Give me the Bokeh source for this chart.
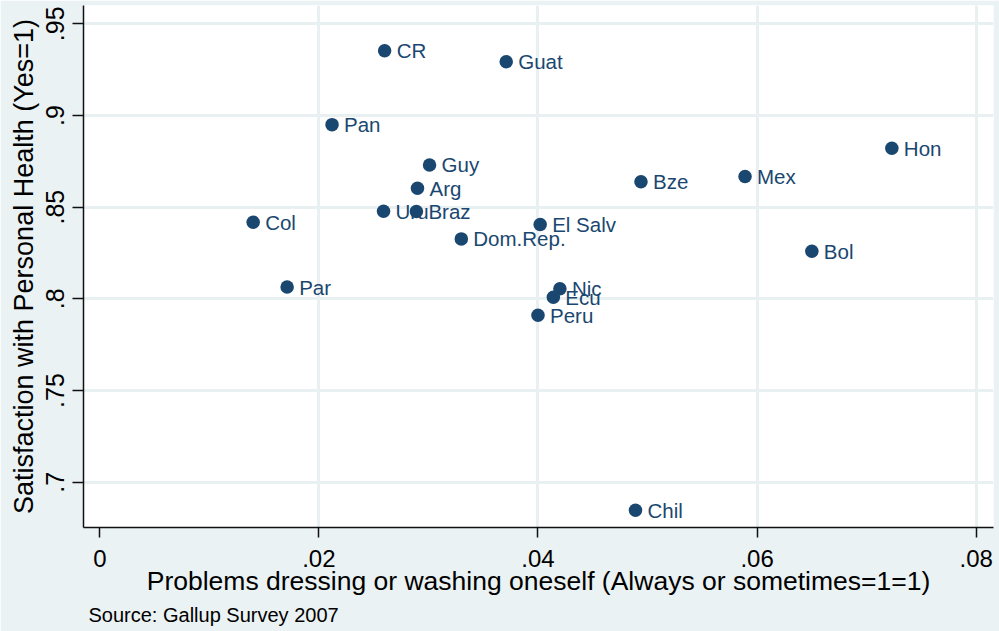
from bokeh.plotting import figure
from bokeh.models import Range1d, FixedTicker, ColumnDataSource, Title
from bokeh.core.properties import value
from bokeh.embed import file_html
from bokeh.resources import INLINE

countries = ["CR", "Guat", "Pan", "Guy", "Arg", "Uru", "Braz", "Col", "El Salv",
             "Dom.Rep.", "Bze", "Mex", "Hon", "Bol", "Par", "Nic", "Ecu", "Peru", "Chil"]
problems_dressing = [0.0260, 0.0371, 0.0212, 0.0301, 0.0290, 0.0259, 0.0289, 0.0140, 0.0402,
                     0.0330, 0.0494, 0.0589, 0.0723, 0.0650, 0.0171, 0.0420, 0.0414, 0.0400, 0.0489]
satisfaction = [0.9353, 0.9293, 0.8950, 0.8730, 0.8603, 0.8478, 0.8476, 0.8418, 0.8405,
                0.8327, 0.8639, 0.8667, 0.8821, 0.8260, 0.8064, 0.8055, 0.8009, 0.7910, 0.6847]

x_ticks = [0.0, 0.02, 0.04, 0.06, 0.08]
x_tick_labels = ["0", ".02", ".04", ".06", ".08"]
y_ticks = [0.7, 0.75, 0.8, 0.85, 0.9, 0.95]
y_tick_labels = [".7", ".75", ".8", ".85", ".9", ".95"]

x_title = "Problems dressing or washing oneself (Always or sometimes=1=1)"
y_title = "Satisfaction with Personal Health (Yes=1)"
source_note = "Source: Gallup Survey 2007"

BG = "#EAF2F3"
GRID = "#E8F0F2"
NAVY = "#1A476F"
FONT = "Liberation Sans"

src = ColumnDataSource(dict(x=problems_dressing, y=satisfaction, name=countries))

p = figure(width=999, height=631, output_backend="svg", toolbar_location=None,
           x_range=Range1d(-0.001488, 0.08158), y_range=Range1d(0.67529, 0.95998),
           min_border=0, min_border_left=83, min_border_right=6, min_border_top=5,
           min_border_bottom=104)

p.background_fill_color = "white"
p.border_fill_color = BG
p.outline_line_color = None

for ax in (p.xaxis, p.yaxis):
    ax.axis_line_color = "#111111"
    ax.axis_line_width = 1.5
    ax.major_tick_line_color = "#111111"
    ax.major_tick_line_width = 1.5
    ax.major_tick_in = 0
    ax.minor_tick_line_color = None
    ax.major_label_text_font = FONT
    ax.major_label_text_color = "#000000"
    ax.axis_label_text_font = FONT
    ax.axis_label_text_font_style = "normal"
    ax.axis_label_text_color = "#000000"

p.xaxis.ticker = FixedTicker(ticks=x_ticks)
p.xaxis.major_label_overrides = {t: l for t, l in zip(x_ticks, x_tick_labels)}
p.xaxis.axis_label = x_title
p.xaxis.major_tick_out = 10
p.xaxis.major_label_text_font_size = "24px"
p.xaxis.axis_label_text_font_size = "26.5px"
p.xaxis.major_label_standoff = 12
p.xaxis.axis_label_standoff = -4

p.yaxis.ticker = FixedTicker(ticks=y_ticks)
p.yaxis.major_label_overrides = {t: l for t, l in zip(y_ticks, y_tick_labels)}
p.yaxis.major_label_orientation = "vertical"
p.yaxis.axis_label = y_title
p.yaxis.major_tick_out = 11
p.yaxis.major_label_text_font_size = "25px"
p.yaxis.axis_label_text_font_size = "27px"
p.yaxis.major_label_standoff = 8
p.yaxis.axis_label_standoff = 5

p.xgrid.ticker = FixedTicker(ticks=x_ticks[1:])
p.ygrid.ticker = FixedTicker(ticks=y_ticks)
for g in (p.xgrid, p.ygrid):
    g.grid_line_color = GRID
    g.grid_line_width = 3

p.text(x="x", y="y", text="name", source=src, x_offset=12,
       text_font=value(FONT), text_font_size=value("20.5px"),
       text_baseline="middle", text_align="left", text_color=NAVY)
p.scatter(x="x", y="y", source=src, size=13.5, fill_color=NAVY, line_color=None)

p.add_layout(Title(text=source_note, text_font=FONT, text_font_size="20px",
                   text_font_style="normal", text_color="#000000",
                   align="left", offset=5, standoff=6), "below")

open("out.html", "w").write(file_html(p, INLINE))
